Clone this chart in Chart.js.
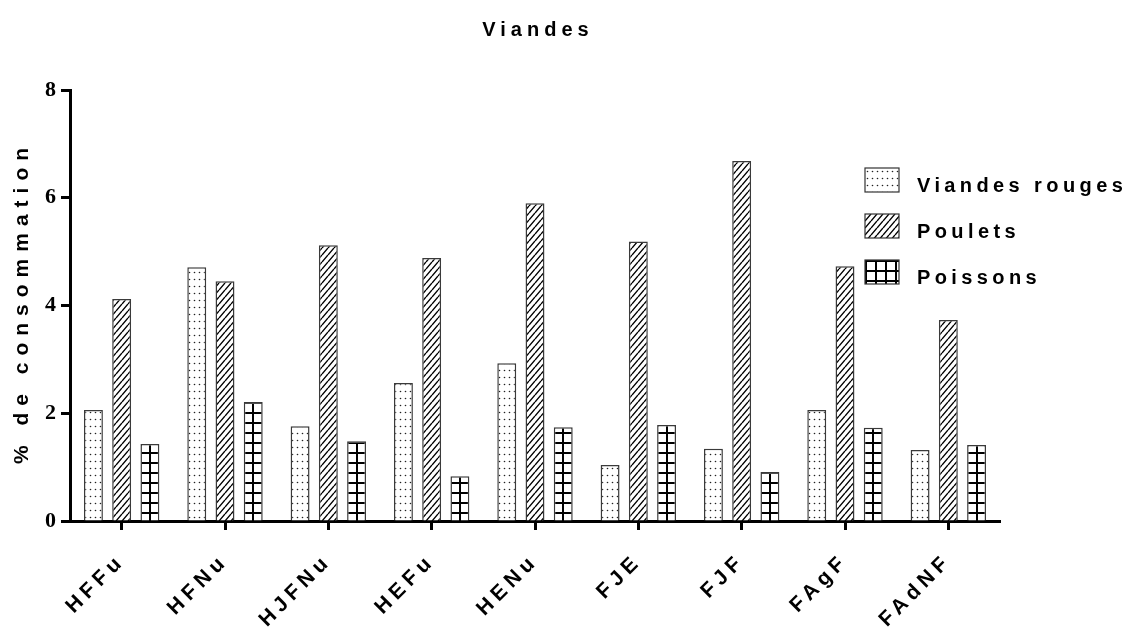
<!DOCTYPE html>
<html>
<head>
<meta charset="utf-8">
<script src="https://cdn.jsdelivr.net/npm/chart.js@4.4.1/dist/chart.umd.min.js"></script>
<style>
html,body{margin:0;padding:0;background:#fff;}
#wrap{width:1134px;height:635px;}
</style>
</head>
<body>
<div id="wrap"><canvas id="myChart"></canvas></div>
<script>
var categories = ['HFFu','HFNu','HJFNu','HEFu','HENu','FJE','FJF','FAgF','FAdNF'];
var viandesRouges = [2.06, 4.71, 1.76, 2.56, 2.93, 1.04, 1.34, 2.06, 1.32];
var poulets = [4.12, 4.45, 5.12, 4.88, 5.90, 5.19, 6.68, 4.73, 3.73];
var poissons = [1.43, 2.21, 1.48, 0.83, 1.74, 1.78, 0.91, 1.73, 1.41];
var seriesNames = ['Viandes rouges', 'Poulets', 'Poissons'];
var yTicks = [0, 2, 4, 6, 8];
var chartTitle = 'Viandes';
var yTitle = '% de consommation';

var catPct = 0.82;
var barPct = 0.67;
var sans = "'Liberation Sans', Arial, sans-serif";

function makeTile(w, h, draw){
    var c = document.createElement('canvas');
    c.width = w; c.height = h;
    var g = c.getContext('2d');
    g.fillStyle = '#fff';
    g.fillRect(0, 0, w, h);
    draw(g, w, h);
    return c;
}

// dotted, hatched and grid fills
var tiles = [
    makeTile(5, 7, function(g){
        g.fillStyle = '#222';
        g.beginPath(); g.arc(2.5, 3.5, 0.8, 0, Math.PI*2); g.fill();
    }),
    makeTile(6, 7, function(g, w, h){
        g.strokeStyle = '#000'; g.lineWidth = 1.4;
        g.beginPath();
        g.moveTo(0, h); g.lineTo(w, 0);
        g.moveTo(-w, h); g.lineTo(0, 0);
        g.moveTo(w, h); g.lineTo(2*w, 0);
        g.stroke();
    }),
    makeTile(10, 10, function(g, w, h){
        g.fillStyle = '#000';
        g.fillRect(0, 0, w, 2);
        g.fillRect(0, 0, 2, h);
    })
];

function patternFor(c){
    var chart = c.chart;
    var xs = chart.scales.x, ys = chart.scales.y;
    var p = chart.ctx.createPattern(tiles[c.datasetIndex], 'repeat');
    if (!xs || !ys || !xs.width) return p;
    var catW = xs.width / categories.length;
    var slot = catW * catPct / 3;
    var center = xs.getPixelForValue(c.dataIndex) + (c.datasetIndex - 1) * slot;
    var base = ys.getPixelForValue(0);
    var tx = center, ty = base;
    if (c.datasetIndex === 2) { tx = center - 11; ty = base + 1; }
    p.setTransform(new DOMMatrix([1, 0, 0, 1, Math.round(tx), Math.round(ty)]));
    return p;
}

var spacingPlugin = {
    id: 'spacing',
    beforeUpdate: function(chart){ chart.ctx.letterSpacing = '5px'; },
    beforeDraw: function(chart){ chart.ctx.letterSpacing = '5px'; }
};

var extrasPlugin = {
    id: 'extras',
    afterDraw: function(chart){
        var ctx = chart.ctx, a = chart.chartArea;
        ctx.save();
        ctx.fillStyle = '#000';
        // title
        ctx.letterSpacing = '5px';
        ctx.font = 'bold 20px ' + sans;
        ctx.textAlign = 'center';
        ctx.textBaseline = 'alphabetic';
        ctx.fillText(chartTitle, (a.left + a.right) / 2 + 3, 36);
        // y axis title
        ctx.save();
        ctx.translate(28, (a.top + a.bottom) / 2);
        ctx.rotate(-Math.PI / 2);
        ctx.letterSpacing = '7px';
        ctx.font = 'bold 21px ' + sans;
        ctx.fillText(yTitle, 3, 0);
        ctx.restore();
        // legend
        ctx.letterSpacing = '4.4px';
        ctx.font = 'bold 20px ' + sans;
        ctx.textAlign = 'left';
        var lx = 865, ly = 168;
        for (var i = 0; i < seriesNames.length; i++) {
            var y = ly + i * 46;
            var p = ctx.createPattern(tiles[i], 'repeat');
            p.setTransform(new DOMMatrix([1, 0, 0, 1, lx, y]));
            ctx.fillStyle = p;
            ctx.fillRect(lx, y, 34, 24);
            ctx.strokeStyle = '#333';
            ctx.lineWidth = 1.2;
            ctx.strokeRect(lx, y, 34, 24);
            ctx.fillStyle = '#000';
            ctx.fillText(seriesNames[i], 917, y + 24);
        }
        ctx.restore();
    }
};

var seriesData = [viandesRouges, poulets, poissons];
var datasets = seriesData.map(function(d, i){
    return {
        label: seriesNames[i],
        data: d,
        backgroundColor: patternFor,
        borderColor: '#3a3a3a',
        borderWidth: 1.5,
        categoryPercentage: catPct,
        barPercentage: barPct
    };
});

var ctx = document.getElementById('myChart').getContext('2d');
var myChart = new Chart(ctx, {
    type: 'bar',
    data: { labels: categories, datasets: datasets },
    plugins: [spacingPlugin, extrasPlugin],
    options: {
        responsive: true,
        maintainAspectRatio: false,
        animation: false,
        devicePixelRatio: 1,
        layout: { padding: { top: 90, right: 134, left: 0, bottom: 0 } },
        plugins: {
            legend: { display: false },
            title: { display: false },
            tooltip: { enabled: false }
        },
        scales: {
            x: {
                grid: { display: true, offset: false, drawOnChartArea: false, drawTicks: true,
                        tickLength: 9, tickWidth: 3, tickColor: '#000' },
                border: { display: true, color: '#000', width: 3 },
                ticks: {
                    autoSkip: false, minRotation: 45, maxRotation: 45,
                    color: '#000', padding: 19,
                    font: { family: sans, size: 21, weight: 'bold' }
                },
                afterFit: function(s){ s.height = 114; }
            },
            y: {
                min: 0, max: 8,
                afterBuildTicks: function(s){ s.ticks = yTicks.map(function(v){ return { value: v }; }); },
                grid: { display: true, drawOnChartArea: false, drawTicks: true,
                        tickLength: 9, tickWidth: 3, tickColor: '#000' },
                border: { display: true, color: '#000', width: 3 },
                ticks: {
                    color: '#000', padding: 0,
                    font: { family: "'Liberation Serif', 'Times New Roman', serif", size: 22, weight: 'bold' }
                },
                afterFit: function(s){ s.width = 70; }
            }
        }
    }
});
</script>
</body>
</html>
